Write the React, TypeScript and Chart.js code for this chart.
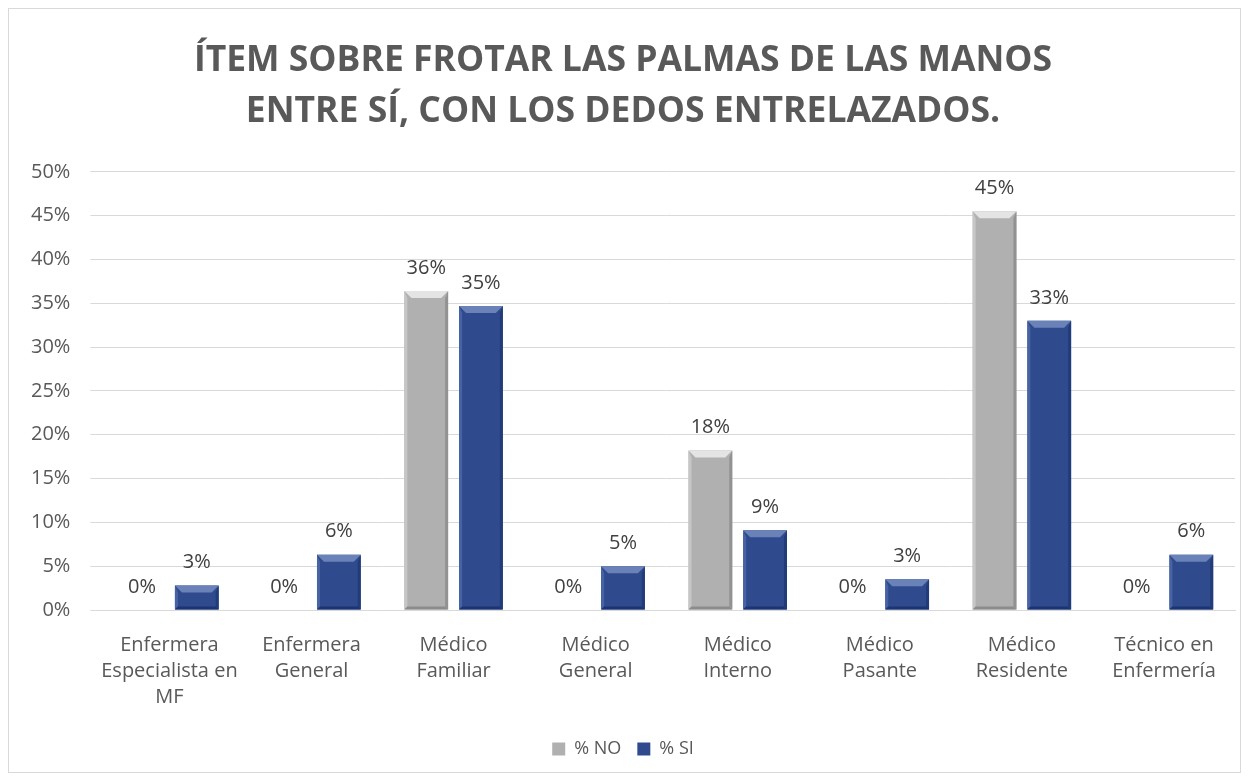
import React, { useEffect, useRef } from "react";
import { Chart, registerables } from "chart.js";

Chart.register(...registerables);

const categories: string[][] = [
  ["Enfermera", "Especialista en", "MF"],
  ["Enfermera", "General"],
  ["Médico", "Familiar"],
  ["Médico", "General"],
  ["Médico", "Interno"],
  ["Médico", "Pasante"],
  ["Médico", "Residente"],
  ["Técnico en", "Enfermería"],
];
const seriesNo: number[] = [0, 0, 36.4, 0, 18.2, 0, 45.5, 0];
const seriesSi: number[] = [2.8, 6.3, 34.7, 5.0, 9.1, 3.5, 33.0, 6.3];
const labelsNo: string[] = ["0%", "0%", "36%", "0%", "18%", "0%", "45%", "0%"];
const labelsSi: string[] = ["3%", "6%", "35%", "5%", "9%", "3%", "33%", "6%"];
const titleLines: string[] = ["ÍTEM SOBRE FROTAR LAS PALMAS DE LAS MANOS", "ENTRE SÍ, CON LOS DEDOS ENTRELAZADOS."];

const FONT = "'Open Sans', 'Noto Sans', sans-serif";
const TEXT = "#595959";

const bevelPlugin = {
  id: "bevel",
  afterDatasetsDraw(chart: any) {
    const ctx = chart.ctx;
    chart.data.datasets.forEach((ds: any, di: number) => {
      const meta = chart.getDatasetMeta(di);
      meta.data.forEach((bar: any, i: number) => {
        const v = ds.data[i];
        if (!v) return;
        const x0 = bar.x - bar.width / 2;
        const x1 = bar.x + bar.width / 2;
        const y0 = bar.y;
        const y1 = bar.base;
        const b = Math.min(7, (y1 - y0) / 2);
        const isBlue = di === 1;
        const faces = isBlue
          ? { top: "#6a82b8", left: "#4763a3", right: "#223c7a", bottom: "#1c3472" }
          : { top: "#e4e4e4", left: "#c6c6c6", right: "#929292", bottom: "#8c8c8c" };
        const poly = (pts: number[][], color: string) => {
          ctx.beginPath();
          ctx.moveTo(pts[0][0], pts[0][1]);
          for (let k = 1; k < pts.length; k++) ctx.lineTo(pts[k][0], pts[k][1]);
          ctx.closePath();
          ctx.fillStyle = color;
          ctx.fill();
        };
        ctx.save();
        poly([[x0, y0], [x1, y0], [x1 - b, y0 + b], [x0 + b, y0 + b]], faces.top);
        poly([[x0, y0], [x0 + 3, y0 + b], [x0 + 3, y1 - 3], [x0, y1]], faces.left);
        poly([[x1, y0], [x1, y1], [x1 - 3, y1 - 3], [x1 - 3, y0 + b]], faces.right);
        poly([[x0, y1], [x1, y1], [x1 - 3, y1 - 3], [x0 + 3, y1 - 3]], faces.bottom);
        ctx.restore();
      });
    });
  },
  afterDraw(chart: any) {
    const ctx = chart.ctx;
    ctx.save();
    ctx.font = `20px ${FONT}`;
    ctx.fillStyle = "#404040";
    ctx.textAlign = "center";
    ctx.textBaseline = "middle";
    const lbls = [labelsNo, labelsSi];
    chart.data.datasets.forEach((ds: any, di: number) => {
      const meta = chart.getDatasetMeta(di);
      meta.data.forEach((bar: any, i: number) => {
        ctx.fillText(lbls[di][i], bar.x, bar.y - 23);
      });
    });
    ctx.restore();
  },
};

export default function App() {
  const ref = useRef<HTMLCanvasElement>(null);
  useEffect(() => {
    if (!ref.current) return;
    const chart = new Chart(ref.current, {
      type: "bar",
      data: {
        labels: categories,
        datasets: [
          { label: "% NO", data: seriesNo, backgroundColor: "#b0b0b0", barPercentage: 0.8, categoryPercentage: 0.77 },
          { label: "% SI", data: seriesSi, backgroundColor: "#2f4b8e", barPercentage: 0.8, categoryPercentage: 0.77 },
        ],
      },
      options: {
        responsive: false,
        animation: false,
        layout: { padding: { left: 2, right: 5, top: 22, bottom: 4 } },
        plugins: {
          title: {
            display: true,
            text: titleLines,
            color: TEXT,
            font: { family: FONT, size: 35.5, weight: "bold", lineHeight: 1.42 },
            padding: { top: 5, bottom: 35 },
          },
          legend: {
            position: "bottom",
            labels: {
              color: TEXT,
              font: { family: FONT, size: 18 },
              boxWidth: 13,
              boxHeight: 13,
              padding: 16,
            },
          },
          tooltip: { enabled: false },
        },
        scales: {
          x: {
            grid: { display: false },
            border: { color: "#d9d9d9" },
            ticks: { color: TEXT, font: { family: FONT, size: 20, lineHeight: 1.3 }, maxRotation: 0, autoSkip: false, padding: 14 },
          },
          y: {
            min: 0,
            max: 50,
            grid: { color: "#d9d9d9" },
            border: { display: false },
            ticks: {
              stepSize: 5,
              color: TEXT,
              font: { family: FONT, size: 20 },
              padding: 20,
              callback: (v: any) => `${v}%`,
            },
          },
        },
      },
      plugins: [bevelPlugin],
    });
    return () => chart.destroy();
  }, []);
  return (
    <div style={{ width: 1231, height: 763, border: "1px solid #d9d9d9", background: "#fff" }}>
      <canvas ref={ref} width={1231} height={763} />
    </div>
  );
}
